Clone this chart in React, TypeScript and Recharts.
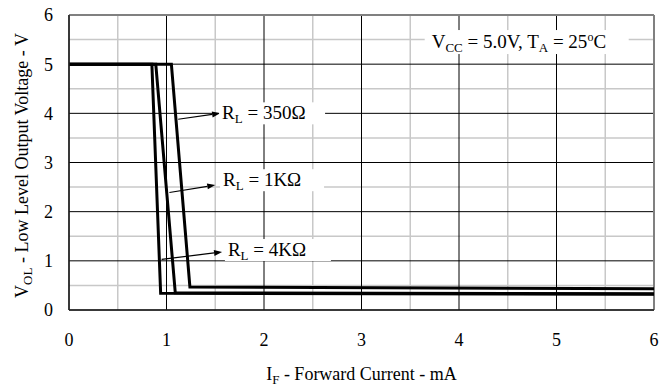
import React from 'react'
import {
  LineChart,
  Line,
  XAxis,
  YAxis,
  CartesianGrid,
  ReferenceLine,
  ReferenceDot,
  Label,
} from 'recharts'

const FONT = "'Liberation Serif', 'Times New Roman', Times, serif"

// I_F (mA) vs V_OL (V)
const rl350 = [
  { x: 0, y: 5 },
  { x: 1.05, y: 5 },
  { x: 1.24, y: 0.47 },
  { x: 6, y: 0.43 },
]
const rl1k = [
  { x: 0, y: 5 },
  { x: 0.89, y: 5 },
  { x: 1.09, y: 0.35 },
  { x: 6, y: 0.33 },
]
const rl4k = [
  { x: 0, y: 5 },
  { x: 0.85, y: 5 },
  { x: 0.94, y: 0.34 },
  { x: 6, y: 0.32 },
]

const majorTicks = [0, 1, 2, 3, 4, 5, 6]
const minorTicks = [0.5, 1.5, 2.5, 3.5, 4.5, 5.5]
const DOMAIN = [0, 6]

// annotation: arrow from curve to label, then label text
const notes = [
  { from: { x: 1.12, y: 3.88 }, to: { x: 1.55, y: 4.0 }, at: { x: 1.57, y: 4.0 }, sub: 'L', rest: ' = 350Ω', w: 106 },
  { from: { x: 1.03, y: 2.39 }, to: { x: 1.5, y: 2.54 }, at: { x: 1.58, y: 2.64 }, sub: 'L', rest: ' = 1KΩ', w: 104 },
  { from: { x: 0.95, y: 1.03 }, to: { x: 1.57, y: 1.18 }, at: { x: 1.63, y: 1.22 }, sub: 'L', rest: ' = 4KΩ', w: 106 },
]

// minor grid positions through the axis scale when available
const minorX = ({ xAxis, offset }: any) =>
  minorTicks.map((t) =>
    xAxis && typeof xAxis.scale === 'function'
      ? xAxis.scale(t)
      : offset.left + (offset.width * (t - DOMAIN[0])) / (DOMAIN[1] - DOMAIN[0])
  )
const minorY = ({ yAxis, offset }: any) =>
  minorTicks.map((t) =>
    yAxis && typeof yAxis.scale === 'function'
      ? yAxis.scale(t)
      : offset.top + offset.height * (1 - (t - DOMAIN[0]) / (DOMAIN[1] - DOMAIN[0]))
  )

const Arrow = (props: any) => {
  const { x1, y1, x2, y2 } = props
  const ang = Math.atan2(y2 - y1, x2 - x1)
  const len = 8
  const hw = 3
  const bx = x2 - len * Math.cos(ang)
  const by = y2 - len * Math.sin(ang)
  const px = -Math.sin(ang) * hw
  const py = Math.cos(ang) * hw
  return (
    <g>
      <line x1={x1} y1={y1} x2={bx} y2={by} stroke="#000" strokeWidth={1.2} />
      <polygon points={`${x2},${y2} ${bx + px},${by + py} ${bx - px},${by - py}`} fill="#000" />
    </g>
  )
}

const makeTag = (sub: string, rest: string, w: number) => (props: any) => {
  const { cx, cy } = props
  return (
    <g>
      <rect x={cx - 3} y={cy - 11} width={w} height={22} fill="#fff" />
      <text x={cx} y={cy + 6} style={{ fontFamily: FONT }} fontSize={19} fill="#000">
        <tspan>R</tspan>
        <tspan fontSize={13} dy={4}>{sub}</tspan>
        <tspan dy={-4}>{rest}</tspan>
      </text>
    </g>
  )
}

const Condition = (props: any) => {
  const { cx, cy } = props
  return (
    <g>
      <rect x={cx - 7} y={cy - 12} width={204} height={24} fill="#fff" />
      <text x={cx} y={cy + 6} style={{ fontFamily: FONT }} fontSize={19} fill="#000">
        <tspan>V</tspan>
        <tspan fontSize={13} dy={4}>CC</tspan>
        <tspan dy={-4}> = 5.0V, T</tspan>
        <tspan fontSize={13} dy={4}>A</tspan>
        <tspan dy={-4}> = 25</tspan>
        <tspan fontSize={12} dy={-7}>o</tspan>
        <tspan dy={7}>C</tspan>
      </text>
    </g>
  )
}

const XTitle = (props: any) => {
  const { viewBox } = props
  const cx = viewBox.x + viewBox.width / 2
  return (
    <text x={cx} y={viewBox.y + 70} textAnchor="middle" style={{ fontFamily: FONT }} fontSize={18} fill="#000">
      <tspan>I</tspan>
      <tspan fontSize={13} dy={4}>F</tspan>
      <tspan dy={-4}> - Forward Current - mA</tspan>
    </text>
  )
}

const YTitle = (props: any) => {
  const { viewBox } = props
  const cy = viewBox.y + viewBox.height / 2 + 3
  const cx = 28
  return (
    <text
      x={cx}
      y={cy}
      textAnchor="middle"
      transform={`rotate(-90, ${cx}, ${cy})`}
      style={{ fontFamily: FONT }}
      fontSize={18}
      fill="#000"
    >
      <tspan>V</tspan>
      <tspan fontSize={13} dy={4}>OL</tspan>
      <tspan dy={-4}> - Low Level Output Voltage - V</tspan>
    </text>
  )
}

export default function App() {
  const tick = { fill: '#000', fontSize: 18, fontFamily: FONT, style: { fontFamily: FONT } }
  return (
    <div style={{ position: 'absolute', left: 0, top: 0, background: '#fff', fontFamily: FONT }}>
      <LineChart width={666} height={388} margin={{ top: 15, right: 12, left: 0, bottom: 0 }}>
        <CartesianGrid
          stroke="#c8c8c8"
          strokeWidth={1.5}
          verticalCoordinatesGenerator={minorX}
          horizontalCoordinatesGenerator={minorY}
        />
        <CartesianGrid stroke="#000" strokeWidth={1} />
        <XAxis
          type="number"
          dataKey="x"
          domain={DOMAIN}
          ticks={majorTicks}
          height={78}
          tickSize={0}
          tickMargin={23}
          tick={tick}
          axisLine={{ stroke: '#222', strokeWidth: 1.5 }}
          allowDataOverflow
        >
          <Label content={<XTitle />} />
        </XAxis>
        <YAxis
          type="number"
          domain={DOMAIN}
          ticks={majorTicks}
          width={69}
          tickSize={0}
          tickMargin={16}
          tick={tick}
          axisLine={{ stroke: '#222', strokeWidth: 1.5 }}
          allowDataOverflow
        >
          <Label content={<YTitle />} />
        </YAxis>
        <ReferenceLine y={6} stroke="#808080" strokeWidth={2} />
        <ReferenceLine x={6} stroke="#808080" strokeWidth={2} />
        <Line data={rl350} dataKey="y" type="linear" stroke="#000" strokeWidth={3} dot={false} isAnimationActive={false} />
        <Line data={rl1k} dataKey="y" type="linear" stroke="#000" strokeWidth={3} dot={false} isAnimationActive={false} />
        <Line data={rl4k} dataKey="y" type="linear" stroke="#000" strokeWidth={3} dot={false} isAnimationActive={false} />
        {notes.map((n, i) => (
          <ReferenceLine key={`a${i}`} segment={[n.from, n.to]} shape={<Arrow />} ifOverflow="visible" />
        ))}
        {notes.map((n, i) => (
          <ReferenceDot key={`t${i}`} x={n.at.x} y={n.at.y} r={0} shape={makeTag(n.sub, n.rest, n.w)} ifOverflow="visible" />
        ))}
        <ReferenceDot x={3.72} y={5.45} r={0} shape={<Condition />} ifOverflow="visible" />
      </LineChart>
    </div>
  )
}
